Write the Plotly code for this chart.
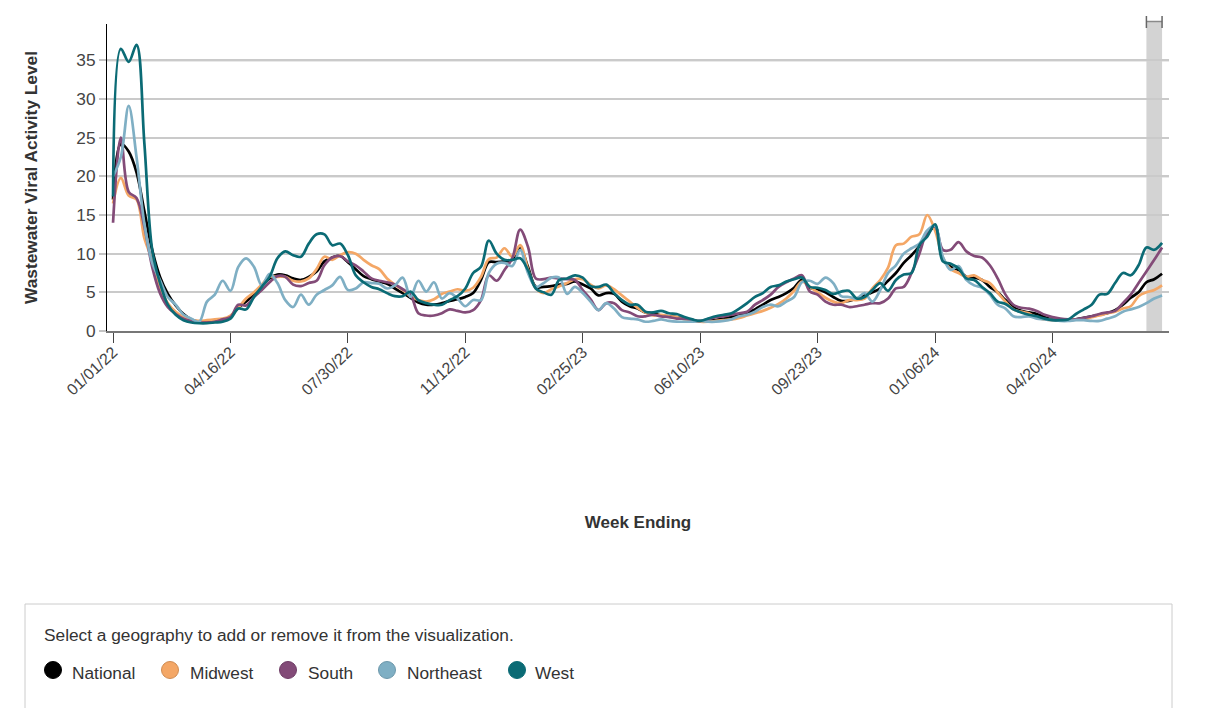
import pandas as pd
import plotly.graph_objs as go

week_ending = pd.date_range('2022-01-01', periods=135, freq='7D')

national = [17, 24.2, 23.2, 20.5, 15.5, 10.5, 7, 4.8, 3.3, 2.2, 1.5, 1.2, 1.1, 1.2, 1.4,
            1.9, 3, 3.8, 4.8, 5.8, 6.8, 7.3, 7.2, 6.8, 6.6, 7, 7.7, 9, 9.5, 9.7,
            8.9, 8, 7.1, 6.7, 6.4, 6.1, 5.5, 4.9, 4.3, 3.7, 3.4, 3.4, 3.6, 3.9, 4.1,
            4.4, 4.9, 6.6, 8.9, 8.9, 9, 9.2, 10.7, 8.3, 5.7, 5.7, 5.8, 6, 6.1, 6.4,
            6, 5.5, 4.6, 4.9, 4.8, 3.8, 3.2, 2.9, 2.4, 2.3, 2, 1.9, 1.8, 1.6, 1.4,
            1.2, 1.3, 1.4, 1.6, 1.8, 2, 2.3, 2.8, 3.4, 4, 4.4, 4.9, 5.6, 6.6, 5.6,
            5.4, 5, 4.4, 3.9, 3.9, 4.2, 4.6, 5, 5.5, 6.5, 7.5, 8.8, 9.8, 11, 12.5,
            13.5, 9.2, 8.3, 7.9, 7, 6.9, 6.6, 5.7, 5, 4, 3.1, 2.6, 2.4, 2.2, 1.8,
            1.5, 1.4, 1.4, 1.5, 1.7, 1.9, 2.1, 2.3, 2.7, 3.4, 4.3, 5, 6.3, 6.7, 7.4]
midwest = [16.5, 19.8, 17.5, 17, 12, 9.2, 5.7, 3.6, 2.5, 1.8, 1.4, 1.3, 1.4, 1.5, 1.6,
           2, 3, 4.2, 5, 6, 7, 7, 7, 6.5, 6.4, 6.8, 8, 9.6, 9.2, 9.8,
           10.2, 10, 9.2, 8.5, 8, 6.8, 6, 5.3, 4.5, 4, 3.8, 4.1, 4.8, 5.1, 5.4,
           5.2, 5.6, 7, 9.3, 9.5, 10.7, 9.6, 11.1, 8, 5.5, 4.9, 5.4, 5.8, 6.2, 6.7,
           6.7, 6, 5.5, 5.9, 5.4, 4.6, 3.8, 3, 2.4, 2, 2.1, 1.9, 1.8, 1.5, 1.4,
           1.2, 1.2, 1.3, 1.4, 1.5, 1.7, 2, 2.3, 2.6, 3, 3.5, 4.2, 5.2, 6.4, 5.7,
           5, 4.3, 3.8, 3.6, 4, 4, 4.2, 5.5, 6.6, 8.2, 11.1, 11.3, 12.2, 12.5, 15,
           13, 9.5, 8, 7.5, 7, 7.2, 6.6, 6.2, 5, 3.8, 2.8, 2.5, 2.3, 1.7, 1.5,
           1.4, 1.4, 1.5, 1.5, 1.5, 1.8, 2, 2.3, 2.5, 2.9, 3.2, 4.5, 5, 5.3, 5.9]
south = [14, 25, 18, 17.2, 13.5, 8.3, 4.9, 3.1, 2.2, 1.6, 1.3, 1.1, 1.1, 1.2, 1.5,
         1.8, 3.4, 3.3, 4.4, 5.3, 6.3, 7.1, 7, 6, 5.8, 6.2, 6.5, 8.5, 9.5, 9.7,
         9, 8.5, 7.7, 6.8, 6.5, 6.3, 6, 5.4, 4.7, 2.3, 2, 2, 2.3, 2.8, 2.6,
         2.4, 2.7, 4, 7.2, 6.5, 7.9, 9.4, 13.1, 10.9, 6.8, 6.7, 6.9, 6.8, 6.7, 6.6,
         5.3, 4.1, 2.7, 3.6, 3.6, 2.7, 2.4, 1.9, 1.9, 2.1, 1.9, 1.8, 1.6, 1.6, 1.4,
         1.3, 1.5, 1.8, 1.9, 2.1, 2.3, 2.5, 3.4, 4, 4.7, 5.7, 6.3, 6.8, 7.2, 5.1,
         4.7, 3.8, 3.4, 3.4, 3.1, 3.2, 3.4, 3.6, 3.6, 4.2, 5.5, 5.7, 7.5, 10, 12.8,
         13.5, 10.5, 10.5, 11.5, 10.3, 9.7, 9.5, 8.5, 6.8, 4.7, 3.4, 3, 2.9, 2.6, 2.1,
         1.8, 1.6, 1.5, 1.5, 1.7, 1.9, 2.2, 2.4, 2.6, 3.6, 4.7, 6.2, 7.7, 9.2, 10.8]
northeast = [20, 22.5, 29.1, 22.5, 13.9, 8.8, 6.6, 4.4, 3.4, 2.1, 1.6, 1.2, 3.8, 4.7, 6.5,
             5.2, 8.3, 9.4, 8.3, 5.9, 7.4, 6.2, 4, 3.1, 4.7, 3.4, 4.7, 5.3, 5.9, 7,
             5.3, 5.5, 6.3, 6.2, 6.1, 5.5, 5.9, 6.9, 4.4, 6.5, 5.1, 6.3, 4.2, 4.9, 4.2,
             3.2, 4, 4, 7.5, 8.7, 8.8, 8.4, 10.5, 7.5, 5.7, 6.2, 6.9, 6.9, 4.8, 5.7,
             4.9, 3.8, 2.7, 3.6, 2.9, 1.8, 1.6, 1.5, 1.2, 1.3, 1.5, 1.3, 1.2, 1.2, 1.2,
             1.3, 1.2, 1.2, 1.3, 1.5, 1.9, 2.1, 2.5, 3.1, 3.4, 3.2, 3.8, 4.4, 6.3, 6.5,
             6.1, 6.9, 6.2, 4.5, 4.4, 4.2, 4.9, 3.8, 5.3, 7.5, 8.5, 10, 10.7, 11.3, 13,
             13.6, 9.6, 7.9, 8.4, 6.6, 5.9, 5.6, 4.7, 3.4, 2.9, 1.9, 1.8, 1.9, 1.6, 1.5,
             1.4, 1.3, 1.3, 1.4, 1.4, 1.3, 1.3, 1.6, 1.9, 2.5, 2.8, 3.1, 3.6, 4.2, 4.6]
west = [17.4, 36.5, 34.8, 37, 24.3, 10.5, 6.2, 3.4, 2.1, 1.4, 1.1, 1, 1, 1.1, 1.2,
        1.6, 2.9, 2.8, 4.4, 5.7, 7, 9.4, 10.3, 9.8, 9.6, 11.3, 12.5, 12.5, 11.1, 11.3,
        9.8, 7.2, 6.3, 5.7, 5.4, 4.9, 4.5, 4.5, 5.1, 4, 3.6, 3.4, 3.4, 4, 4.5,
        5.5, 7.5, 8.3, 11.7, 10, 9.2, 9.2, 9.4, 7.9, 5.5, 5, 4.7, 6.6, 6.8, 7.2,
        6.9, 5.8, 5.7, 6, 4.9, 4, 3.4, 3.4, 2.5, 2.4, 2.6, 2.3, 2.2, 1.8, 1.5,
        1.3, 1.6, 1.9, 2.1, 2.3, 2.9, 3.6, 4.4, 4.9, 5.7, 5.9, 6.4, 6.7, 6.9, 5.7,
        5.6, 5.3, 4.8, 5.1, 5.2, 4.2, 4.4, 5.3, 6.2, 5.2, 6.6, 7.3, 7.5, 11.1, 12.2,
        13.8, 9, 8.7, 8.1, 6.8, 6.6, 5.7, 4.9, 3.8, 3.5, 2.8, 2.4, 2.1, 1.9, 1.6,
        1.4, 1.4, 1.5, 2.2, 2.8, 3.4, 4.7, 4.8, 6.2, 7.5, 7.2, 8.5, 10.8, 10.5, 11.4]

names = ['National', 'Midwest', 'South', 'Northeast', 'West']
series = [national, midwest, south, northeast, west]
colors = ['#000000', '#f4a766', '#834b78', '#7fafc4', '#0b6b75']
legend_edge = ['#000000', '#d08c52', '#6f3d66', '#6d98ab', '#0b6b75']
legend_dot_x = [53, 170, 288, 387, 517]
legend_text_x = [70, 188, 306, 404.5, 533]

tick_dates = week_ending[::15]
tick_text = [d.strftime('%m/%d/%y') for d in tick_dates]

# page has a body margin, so screen pixels are shifted by this much
OFF = 8
LEFT, RIGHT, TOP, BOTTOM = 107 - OFF, 1169 - OFF, 24 - OFF, 331 - OFF
W, H = 1192, 700


def px(x):
    return (x - OFF - LEFT) / (RIGHT - LEFT)


def py(y):
    return (BOTTOM - (y - OFF)) / (BOTTOM - TOP)


fig = go.Figure()

for name, vals, col in zip(names, series, colors):
    fig.add_trace(go.Scatter(x=week_ending, y=vals, mode='lines', name=name,
                             line=dict(color=col, width=2.7, shape='spline', smoothing=1)))

fig.update_layout(
    width=W, height=H,
    margin=dict(l=LEFT, r=W - RIGHT, t=TOP, b=H - BOTTOM),
    paper_bgcolor='white', plot_bgcolor='white',
    showlegend=False,
    font=dict(family='Liberation Sans, Arial, sans-serif', size=16, color='#333333'),
)
fig.update_xaxes(
    range=[week_ending[0] - pd.Timedelta(days=5.4), week_ending[-1] + pd.Timedelta(days=6.2)],
    tickvals=list(tick_dates), ticktext=tick_text, tickangle=-43,
    tickfont=dict(size=16, color='#444444'),
    ticks='outside', ticklen=10, tickwidth=1, tickcolor='#444444',
    showline=True, linecolor='#777777', linewidth=1.5, showgrid=False, zeroline=False,
    ticklabelstandoff=-6,
    title=dict(text='<b>Week Ending</b>', standoff=119, font=dict(size=17)),
)
fig.update_yaxes(
    range=[0, 39.7], tickvals=list(range(0, 40, 5)), tickfont=dict(size=17.3, color='#444444'),
    ticks='outside', ticklen=7, tickwidth=2, tickcolor='#c4c4c4',
    showline=True, linecolor='#000000', linewidth=1,
    showgrid=True, gridcolor='#cacaca', gridwidth=2, zeroline=False,
    title=dict(text='<b>Wastewater Viral Activity Level</b>', standoff=34, font=dict(size=17.3)),
)

# the two darker reference lines
for level in [20, 35]:
    fig.add_shape(type='line', xref='paper', yref='y', x0=0, x1=1, y0=level, y1=level,
                  line=dict(color='#a6a6a6', width=2), layer='between')

# shaded latest weeks with the bracket on top
fig.add_shape(type='rect', xref='x', yref='paper', x0=week_ending[132], x1=week_ending[134],
              y0=0, y1=py(21), fillcolor='#d3d3d3', line_width=0, layer='below')
fig.add_shape(type='line', xref='x', yref='paper', x0=week_ending[132], x1=week_ending[134],
              y0=py(21.5), y1=py(21.5), line=dict(color='#8a8a8a', width=1.5))
for i in [132, 134]:
    fig.add_shape(type='line', xref='x', yref='paper', x0=week_ending[i], x1=week_ending[i],
                  y0=py(16), y1=py(28), line=dict(color='#666666', width=1.5))

# box around the legend
for x0, y0, x1, y1 in [(25, 604, 1172, 604), (25, 604, 25, 708), (1172, 604, 1172, 708)]:
    fig.add_shape(type='line', xref='paper', yref='paper', x0=px(x0), x1=px(x1),
                  y0=py(y0), y1=py(y1), line=dict(color='#cccccc', width=1))

fig.add_annotation(text='Select a geography to add or remove it from the visualization.',
                   xref='paper', yref='paper', x=px(42), y=py(635), xanchor='left',
                   yanchor='middle', showarrow=False, font=dict(size=17.3, color='#333333'))

for name, col, edge, dx, tx in zip(names, colors, legend_edge, legend_dot_x, legend_text_x):
    fig.add_shape(type='circle', xref='paper', yref='paper', x0=px(dx - 8.5), x1=px(dx + 8.5),
                  y0=py(678.5), y1=py(661.5), fillcolor=col, line=dict(color=edge, width=1))
    fig.add_annotation(text=name, xref='paper', yref='paper', x=px(tx), y=py(673),
                       xanchor='left', yanchor='middle', showarrow=False,
                       font=dict(size=17.3, color='#333333'))

fig.write_html("out.html")
